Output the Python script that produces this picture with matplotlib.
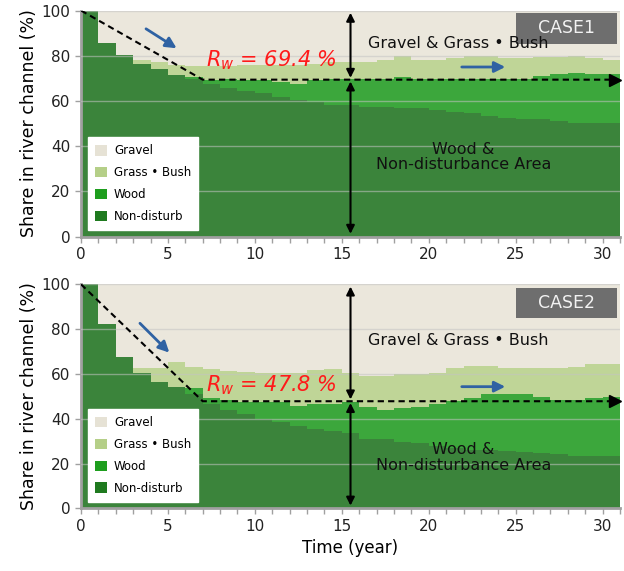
import matplotlib
matplotlib.use("Agg")
import matplotlib.pyplot as plt
from matplotlib.patches import Patch, Rectangle
import numpy as np

plt.rcParams['font.family'] = ['DejaVu Sans']

# year bins: bar i covers year i .. i+1
years = np.arange(0, 32)

# CASE1 shares (%) by class
nondist1 = [100, 85.5, 80.5, 76.5, 74.0, 71.5, 69.5, 67.5, 65.9, 64.5, 63.4, 61.9, 60.4, 59.7, 58.2, 58.2,
            57.4, 57.4, 56.7, 56.7, 56.0, 55.2, 54.5, 53.5, 52.6, 51.9, 51.9, 51.1, 50.4, 50.4, 50.4]
wood1 = [0, 0, 0, 0, 0, 0, 1.0, 1.7, 3.6, 4.7, 5.8, 6.6, 7.1, 9.5, 11.3, 11.3,
         12.3, 12.3, 13.8, 13.0, 13.8, 14.6, 15.3, 16.3, 17.2, 17.9, 19.1, 20.7, 22.1, 21.4, 21.4]
grass1 = [0, 0, 0, 1.6, 3.1, 4.4, 5.1, 6.4, 6.1, 6.8, 6.8, 7.5, 8.5, 7.3, 7.5, 7.9,
          7.7, 8.4, 9.4, 8.4, 8.3, 9.0, 10.1, 10.1, 9.0, 9.0, 8.3, 7.5, 7.4, 7.0, 6.5]
rw1 = 69.4

# CASE2 shares (%) by class
nondist2 = [100, 82.1, 67.7, 60.5, 56.2, 54.0, 51.0, 46.5, 44.0, 42.3, 39.8, 38.5, 36.8, 35.5, 34.5, 33.5,
            31.0, 30.9, 29.7, 29.0, 28.0, 26.8, 26.0, 26.0, 25.6, 25.3, 24.6, 24.2, 23.5, 23.5, 23.5]
wood2 = [0, 0, 0, 0, 0, 0, 2.6, 2.6, 4.2, 5.3, 7.8, 9.1, 8.9, 11.2, 12.2, 13.8,
         14.4, 13.0, 14.9, 16.4, 18.5, 21.1, 23.1, 24.9, 25.3, 25.6, 25.2, 24.1, 24.8, 25.6, 26.3]
grass2 = [0, 0, 0, 2.3, 6.6, 11.4, 9.3, 12.9, 13.3, 13.4, 12.7, 12.7, 14.9, 15.0, 15.5, 13.0,
          13.8, 15.3, 15.2, 14.4, 14.1, 14.6, 14.6, 12.8, 11.9, 11.9, 12.7, 14.2, 14.9, 15.5, 14.8]
rw2 = 47.8

t_break = 7
cases = ["CASE1", "CASE2"]
labels = ["Gravel", "Grass \u2022 Bush", "Wood", "Non-disturb"]

c_gravel, c_grass, c_wood, c_nd = "#ebe7dc", "#bfd597", "#3ca73c", "#3b843b"
leg_cols = ["#e6e2d5", "#b5cf88", "#1e9e1e", "#1f7a1f"]

fig = plt.figure(figsize=(6.24, 5.71), dpi=100)
ax1 = fig.add_axes([0.1298, 0.5858, 0.8638, 0.3958])
ax2 = fig.add_axes([0.1298, 0.1098, 0.8638, 0.3923])


def draw_case(ax, nd, wd, gr, rw, case, blue1, blue2, txt_y, box_y):
    nd = np.array(nd)
    wtop = nd + np.array(wd)
    gtop = wtop + np.array(gr)
    ax.stairs(np.full(len(nd), 100.0), years, fill=True, color=c_gravel, lw=0)
    ax.stairs(gtop, years, fill=True, color=c_grass, lw=0)
    ax.stairs(wtop, years, fill=True, color=c_wood, lw=0)
    ax.stairs(nd, years, fill=True, color=c_nd, lw=0)

    ax.set_xlim(0, 31)
    ax.set_ylim(0, 100)
    for g in [20, 40, 60, 80, 100]:
        ax.axhline(g, color="#c4c4c4", alpha=0.55, lw=1, zorder=3)

    for s in ["top", "right"]:
        ax.spines[s].set_visible(False)
    for s in ["left", "bottom"]:
        ax.spines[s].set_color("#a0a0a0")
        ax.spines[s].set_linewidth(2)
    ax.set_xticks(range(0, 32))
    ax.set_xticklabels([str(i) if i % 5 == 0 else "" for i in range(0, 32)])
    ax.set_yticks([0, 20, 40, 60, 80, 100])
    ax.tick_params(axis="both", direction="out", length=4, width=1, color="#a0a0a0",
                   labelsize=11, labelcolor="#222222")
    ax.set_ylabel("Share in river channel (%)", fontsize=12.5, labelpad=3)

    # dashed trend
    ax.plot([0, t_break, 30.6], [100, rw, rw], color="black", lw=1.5, ls=(0, (3, 2)), zorder=5)
    ax.plot([30.7], [rw], marker=">", ms=9, color="black", clip_on=False, zorder=6)

    # double arrows
    ax.annotate("", xy=(15.5, 99), xytext=(15.5, rw + 0.8),
                arrowprops=dict(arrowstyle="<|-|>", color="black", lw=1.5, mutation_scale=12,
                                shrinkA=0, shrinkB=0), zorder=6)
    ax.annotate("", xy=(15.5, rw - 0.8), xytext=(15.5, 1.2),
                arrowprops=dict(arrowstyle="<|-|>", color="black", lw=1.5, mutation_scale=12,
                                shrinkA=0, shrinkB=0), zorder=6)

    # blue arrows
    for (x0, y0, x1, y1) in [blue1, blue2]:
        ax.annotate("", xy=(x1, y1), xytext=(x0, y0),
                    arrowprops=dict(arrowstyle="-|>", color="#2f62a3", lw=2, mutation_scale=16,
                                    shrinkA=0, shrinkB=0), zorder=6)

    ax.text(7.2, txt_y[0], r"$R_w$ = %.1f %%" % rw, color="#ff1a1a", fontsize=15,
            style="italic", va="center", ha="left", zorder=7)
    ax.text(21.7, txt_y[1], "Gravel & Grass \u2022 Bush", fontsize=11.5, ha="center", va="center",
            color="#111111", zorder=10)
    ax.text(22.0, txt_y[2], "Wood &\nNon-disturbance Area", fontsize=11.5, ha="center", va="center",
            color="#111111", linespacing=1.05, zorder=7)

    # case label box
    ax.add_patch(Rectangle((0.807, box_y[0]), 0.187, box_y[1] - box_y[0], transform=ax.transAxes,
                           facecolor="#6e6e6e", edgecolor="none", zorder=8, clip_on=False))
    ax.text(0.9005, (box_y[0] + box_y[1]) / 2, case, transform=ax.transAxes, fontsize=12.5,
            color="#f2f2f2", ha="center", va="center", zorder=9)

    handles = [Patch(facecolor=c, edgecolor="none") for c in leg_cols]
    leg = ax.legend(handles, labels, loc="lower left", bbox_to_anchor=(0.013, 0.029),
                    fontsize=8.5, frameon=True, fancybox=False, framealpha=1,
                    edgecolor="white", handlelength=1.0, handleheight=1.0,
                    labelspacing=0.75, borderpad=0.6, handletextpad=0.6, borderaxespad=0)
    leg.set_zorder(9)


draw_case(ax1, nondist1, wood1, grass1, rw1, cases[0],
          (3.74, 91.9, 5.5, 83.3), (21.9, 75.0, 24.4, 75.0), (78.1, 85.2, 35.2), (0.852, 0.989))
draw_case(ax2, nondist2, wood2, grass2, rw2, cases[1],
          (3.39, 82.6, 5.08, 69.5), (21.9, 54.3, 24.4, 54.3), (55.0, 74.8, 22.6), (0.848, 0.985))
ax2.set_xlabel("Time (year)", fontsize=12, labelpad=4)

fig.savefig("out.png", dpi=100)
